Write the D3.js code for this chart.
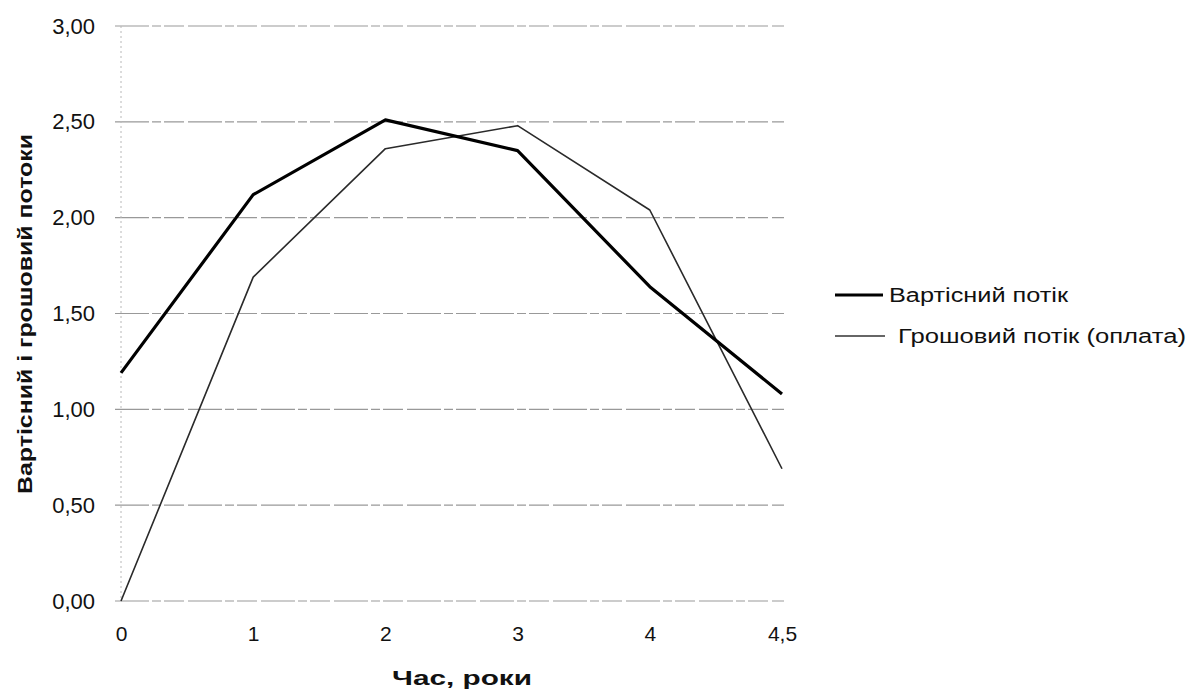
<!DOCTYPE html>
<html>
<head>
<meta charset="utf-8">
<script src="https://cdn.jsdelivr.net/npm/d3@7"></script>
<style>
  html, body { margin: 0; padding: 0; background: #fff; }
  svg { display: block; font-family: "Liberation Sans", Arial, sans-serif; }
</style>
</head>
<body>
<svg id="chart" width="1190" height="693"></svg>
<script>
// Time points (years) and the two flows
const years = ["0", "1", "2", "3", "4", "4,5"];
const valueFlow = [1.19, 2.12, 2.51, 2.35, 1.64, 1.08];
const cashFlow = [0.00, 1.69, 2.36, 2.48, 2.04, 0.69];
const yTicks = [0, 0.5, 1, 1.5, 2, 2.5, 3];
const seriesNames = ["Вартісний потік", "Грошовий потік (оплата)"];
const xTitle = "Час, роки";
const yTitle = "Вартісний і грошовий потоки";

const svg = d3.select("#chart");
const plotLeft = 121, plotRight = 782, plotTop = 26, plotBottom = 601;
const FONT = "'Liberation Sans', Arial, sans-serif";

const x = d3.scalePoint().domain(years).range([plotLeft, plotRight]);
const y = d3.scaleLinear().domain([0, 3]).range([plotBottom, plotTop]);
const fmt = v => d3.format(".2f")(v).replace(".", ",");

// Horizontal gridlines
svg.append("g")
  .selectAll("line")
  .data(yTicks)
  .join("line")
  .attr("x1", plotLeft - 6).attr("x2", plotRight + 2)
  .attr("y1", d => y(d)).attr("y2", d => y(d))
  .attr("stroke", "#999")
  .attr("stroke-width", 1.2)
  .attr("stroke-dasharray", "34,3,9,3,20,4");

// Vertical axis line (light dotted)
svg.append("line")
  .attr("x1", plotLeft).attr("x2", plotLeft)
  .attr("y1", plotTop).attr("y2", plotBottom)
  .attr("stroke", "#b8b8b8")
  .attr("stroke-width", 1)
  .attr("stroke-dasharray", "2,3");

// Y axis labels
const yAxis = d3.axisLeft(y).tickValues(yTicks).tickFormat(fmt).tickSize(0).tickPadding(26);
const gy = svg.append("g").attr("transform", `translate(${plotLeft},0)`).call(yAxis);
gy.select(".domain").remove();
gy.selectAll("text")
  .attr("font-size", 22)
  .attr("fill", "#111")
  .attr("font-family", FONT);

// X axis labels
const xAxis = d3.axisBottom(x).tickSize(0).tickPadding(25);
const gx = svg.append("g").attr("transform", `translate(0,${plotBottom})`).call(xAxis);
gx.select(".domain").remove();
gx.selectAll("text")
  .attr("font-size", 21)
  .attr("fill", "#111")
  .attr("font-family", FONT);

// Axis titles
svg.append("text")
  .attr("x", 462).attr("y", 685)
  .attr("text-anchor", "middle")
  .attr("font-size", 21).attr("font-weight", "bold").attr("fill", "#111")
  .attr("textLength", 140).attr("lengthAdjust", "spacingAndGlyphs")
  .text(xTitle);

svg.append("text")
  .attr("transform", "translate(32,314) rotate(-90)")
  .attr("text-anchor", "middle")
  .attr("font-size", 21).attr("font-weight", "bold").attr("fill", "#111")
  .attr("textLength", 360).attr("lengthAdjust", "spacingAndGlyphs")
  .text(yTitle);

// Series lines
const line = d3.line().x((d, i) => x(years[i])).y(d => y(d));

svg.append("path")
  .datum(cashFlow)
  .attr("d", line)
  .attr("fill", "none")
  .attr("stroke", "#2a2a2a")
  .attr("stroke-width", 1.6)
  .attr("stroke-linejoin", "round");

svg.append("path")
  .datum(valueFlow)
  .attr("d", line)
  .attr("fill", "none")
  .attr("stroke", "#000")
  .attr("stroke-width", 3.2)
  .attr("stroke-linejoin", "round");

// Legend
const legend = svg.append("g");
const legendItems = [
  { name: seriesNames[0], width: 3, color: "#000", ly: 295, x2: 883, tx: 889, ty: 302, len: 179 },
  { name: seriesNames[1], width: 1.6, color: "#333", ly: 336, x2: 885, tx: 898, ty: 343, len: 288 }
];
legendItems.forEach(it => {
  legend.append("line")
    .attr("x1", 835).attr("x2", it.x2)
    .attr("y1", it.ly).attr("y2", it.ly)
    .attr("stroke", it.color).attr("stroke-width", it.width);
  legend.append("text")
    .attr("x", it.tx).attr("y", it.ty)
    .attr("font-size", 20).attr("fill", "#111")
    .attr("textLength", it.len).attr("lengthAdjust", "spacingAndGlyphs")
    .text(it.name);
});
</script>
</body>
</html>
